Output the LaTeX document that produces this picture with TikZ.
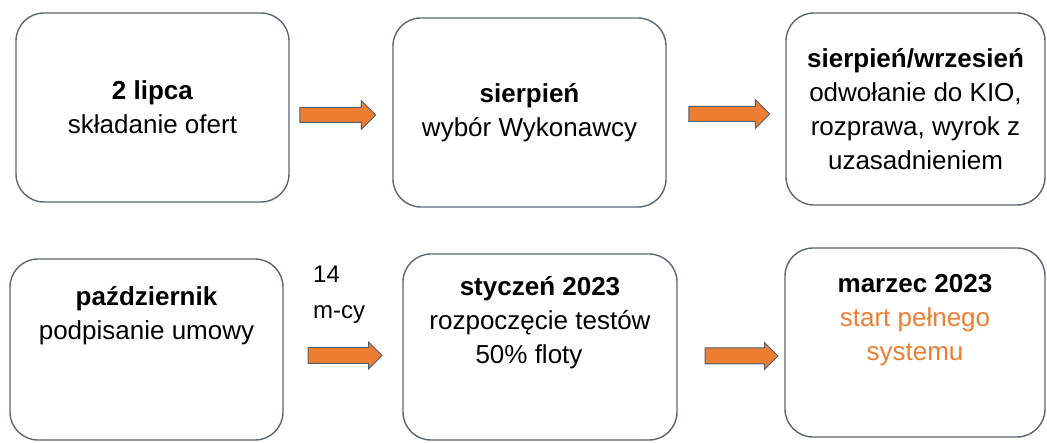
\documentclass[tikz,border=0pt]{standalone}
\usepackage{fontspec}
\setmainfont{Liberation Sans}
\usetikzlibrary{shapes.arrows}
\definecolor{boxline}{RGB}{92,102,114}
\definecolor{arrowfill}{RGB}{237,125,49}
\definecolor{arrowline}{RGB}{80,96,112}
\definecolor{orangetext}{RGB}{237,125,49}
\tikzset{
  stepbox/.style={draw=boxline, line width=1.4pt, rounded corners=28pt, inner sep=0pt},
  boxtext/.style={align=center, inner sep=0pt, font=\fontsize{26}{34}\selectfont},
  orangearrow/.style={single arrow, draw=arrowline, fill=arrowfill, line width=1pt,
    inner xsep=0pt, inner ysep=7pt, single arrow head extend=7pt, minimum width=0pt},
  lbltext/.style={align=left, inner sep=0pt, anchor=north west, font=\fontsize{24}{36}\selectfont}
}
\newcommand{\topstrut}{\rule{0pt}{24pt}}
\begin{document}
\begin{tikzpicture}[x=1pt,y=-1pt]
\useasboundingbox (0,0) rectangle (1047,443);
% top row boxes
\node[stepbox, minimum width=273pt, minimum height=189pt] (b1) at (152.5,107.5) {};
\node[boxtext] (t1) at (b1.center) {\textbf{2 lipca}\\składanie ofert};
\node[stepbox, minimum width=273pt, minimum height=189pt] (b2) at (529.5,112.5) {};
\node[boxtext] (t2) at (b2.center) {\textbf{sierpień}\\wybór Wykonawcy};
\node[stepbox, minimum width=259pt, minimum height=192pt] (b3) at (915.5,109) {};
\node[boxtext] (t3) at (b3.center) {\textbf{sierpień/wrzesień}\\odwołanie do KIO,\\rozprawa, wyrok z\\uzasadnieniem};
% bottom row boxes
\node[stepbox, minimum width=273pt, minimum height=181pt] (b4) at (146.5,349.5) {};
\node[boxtext, anchor=north] (t4) at (146.5,281) {\topstrut\textbf{październik}\\podpisanie umowy};
\node[stepbox, minimum width=274pt, minimum height=186pt] (b5) at (540,347) {};
\node[boxtext, anchor=north] (t5) at (540,271) {\topstrut\textbf{styczeń 2023}\\rozpoczęcie testów\\50\% floty\hspace*{22pt}};
\node[stepbox, minimum width=260pt, minimum height=189pt] (b6) at (915,342.5) {};
\node[boxtext, anchor=north] (t6) at (915,268) {\topstrut\textbf{marzec 2023}\\\textcolor{orangetext}{start pełnego}\\\textcolor{orangetext}{systemu}};
% label
\node[lbltext] (lbl) at (313,258) {\rule{0pt}{24pt}14\\m-cy};
% arrows
\node[orangearrow, minimum height=76pt] (a1) at (334,115) {};
\node[orangearrow, minimum height=81pt] (a2) at (725.5,114) {};
\node[orangearrow, minimum height=74pt, inner ysep=7.5pt, single arrow head extend=5.5pt] (a3) at (341,355.5) {};
\node[orangearrow, minimum height=73pt, inner ysep=7.5pt, single arrow head extend=5.5pt] (a4) at (737.5,356) {};
\end{tikzpicture}
\end{document}
